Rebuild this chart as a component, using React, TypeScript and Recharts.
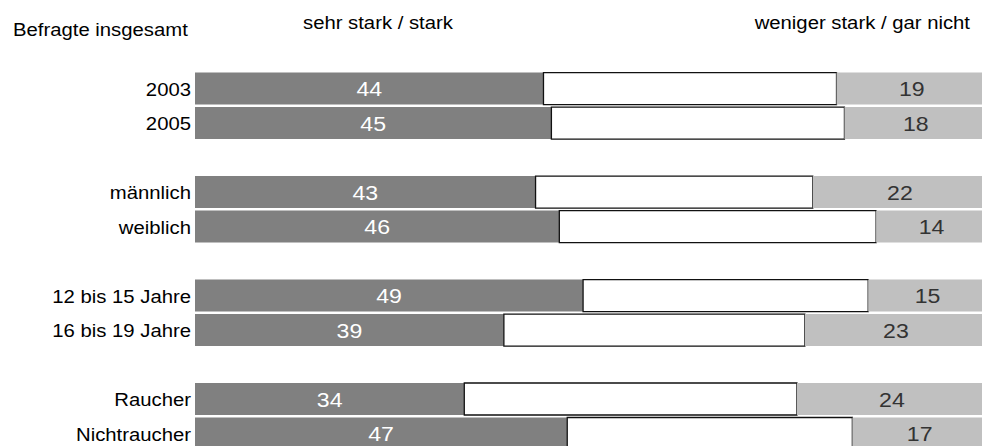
import React from "react";
import {BarChart, Bar, XAxis, YAxis, LabelList} from "recharts";

// rows of the chart; blank entries are the spacer rows between groups
const categories = ["2003", "2005", " ", "männlich", "weiblich", "  ", "12 bis 15 Jahre", "16 bis 19 Jahre", "   ", "Raucher", "Nichtraucher"];
const strongValues = [44, 45, null, 43, 46, null, 49, 39, null, 34, 47];
const middleValues = [37, 37, null, 35, 40, null, 36, 38, null, 42, 36];
const weakValues = [19, 18, null, 22, 14, null, 15, 23, null, 24, 17];

const headerLeft = "Befragte insgesamt";
const headerStrong = "sehr stark / stark";
const headerWeak = "weniger stark / gar nicht";

const data = categories.map((name, i) => ({
  name,
  strong: strongValues[i],
  middle: middleValues[i],
  weak: weakValues[i],
}));

const FONT = '"Liberation Sans", Arial, sans-serif';

function CategoryTick({x, y, payload}: any) {
  return (
    <text
      transform={`translate(${x},${Number(y) + 7}) scale(1.16,1)`}
      textAnchor="end"
      fontFamily={FONT}
      fontSize={17.5}
      fill="#000"
    >
      {String(payload.value).trim()}
    </text>
  );
}

function valueLabel(color: string) {
  return (props: any) => {
    const {x, y, width, height, value} = props;
    if (value == null) return null;
    const cx = Number(x) + Number(width) / 2;
    const cy = Number(y) + Number(height) / 2 + 7.5;
    return (
      <text
        transform={`translate(${cx},${cy}) scale(1.1,1)`}
        textAnchor="middle"
        fontFamily={FONT}
        fontSize={21}
        fill={color}
      >
        {value}
      </text>
    );
  };
}

export default function App() {
  return (
    <div style={{position: "fixed", left: 0, top: 0, width: 982, height: 446, overflow: "hidden", background: "#fff"}}>
      <svg width={982} height={60} style={{position: "absolute", left: 0, top: 0}}>
        <text transform="translate(13,36) scale(1.16,1)" fontFamily={FONT} fontSize={17.5} fill="#000">
          {headerLeft}
        </text>
        <text transform="translate(303,29) scale(1.16,1)" fontFamily={FONT} fontSize={17.5} fill="#000">
          {headerStrong}
        </text>
        <text transform="translate(970,29) scale(1.16,1)" textAnchor="end" fontFamily={FONT} fontSize={17.5} fill="#000">
          {headerWeak}
        </text>
      </svg>
      <div style={{position: "absolute", left: 0, top: 0}}>
        <BarChart
          layout="vertical"
          width={987}
          height={451}
          data={data}
          margin={{top: 71.6, right: 0, bottom: 0, left: 0}}
          barCategoryGap={0}
        >
          <XAxis type="number" domain={[0, 100]} hide />
          <YAxis
            type="category"
            dataKey="name"
            width={195}
            axisLine={false}
            tickLine={false}
            tickSize={0}
            tickMargin={4}
            interval={0}
            tick={<CategoryTick />}
          />
          <Bar dataKey="strong" stackId="a" fill="#808080" barSize={32} isAnimationActive={false}>
            <LabelList dataKey="strong" content={valueLabel("#ffffff")} />
          </Bar>
          <Bar dataKey="middle" stackId="a" fill="#ffffff" stroke="#111" strokeWidth={1.3} barSize={32} isAnimationActive={false} />
          <Bar dataKey="weak" stackId="a" fill="#c0c0c0" barSize={32} isAnimationActive={false}>
            <LabelList dataKey="weak" content={valueLabel("#333333")} />
          </Bar>
        </BarChart>
      </div>
    </div>
  );
}
